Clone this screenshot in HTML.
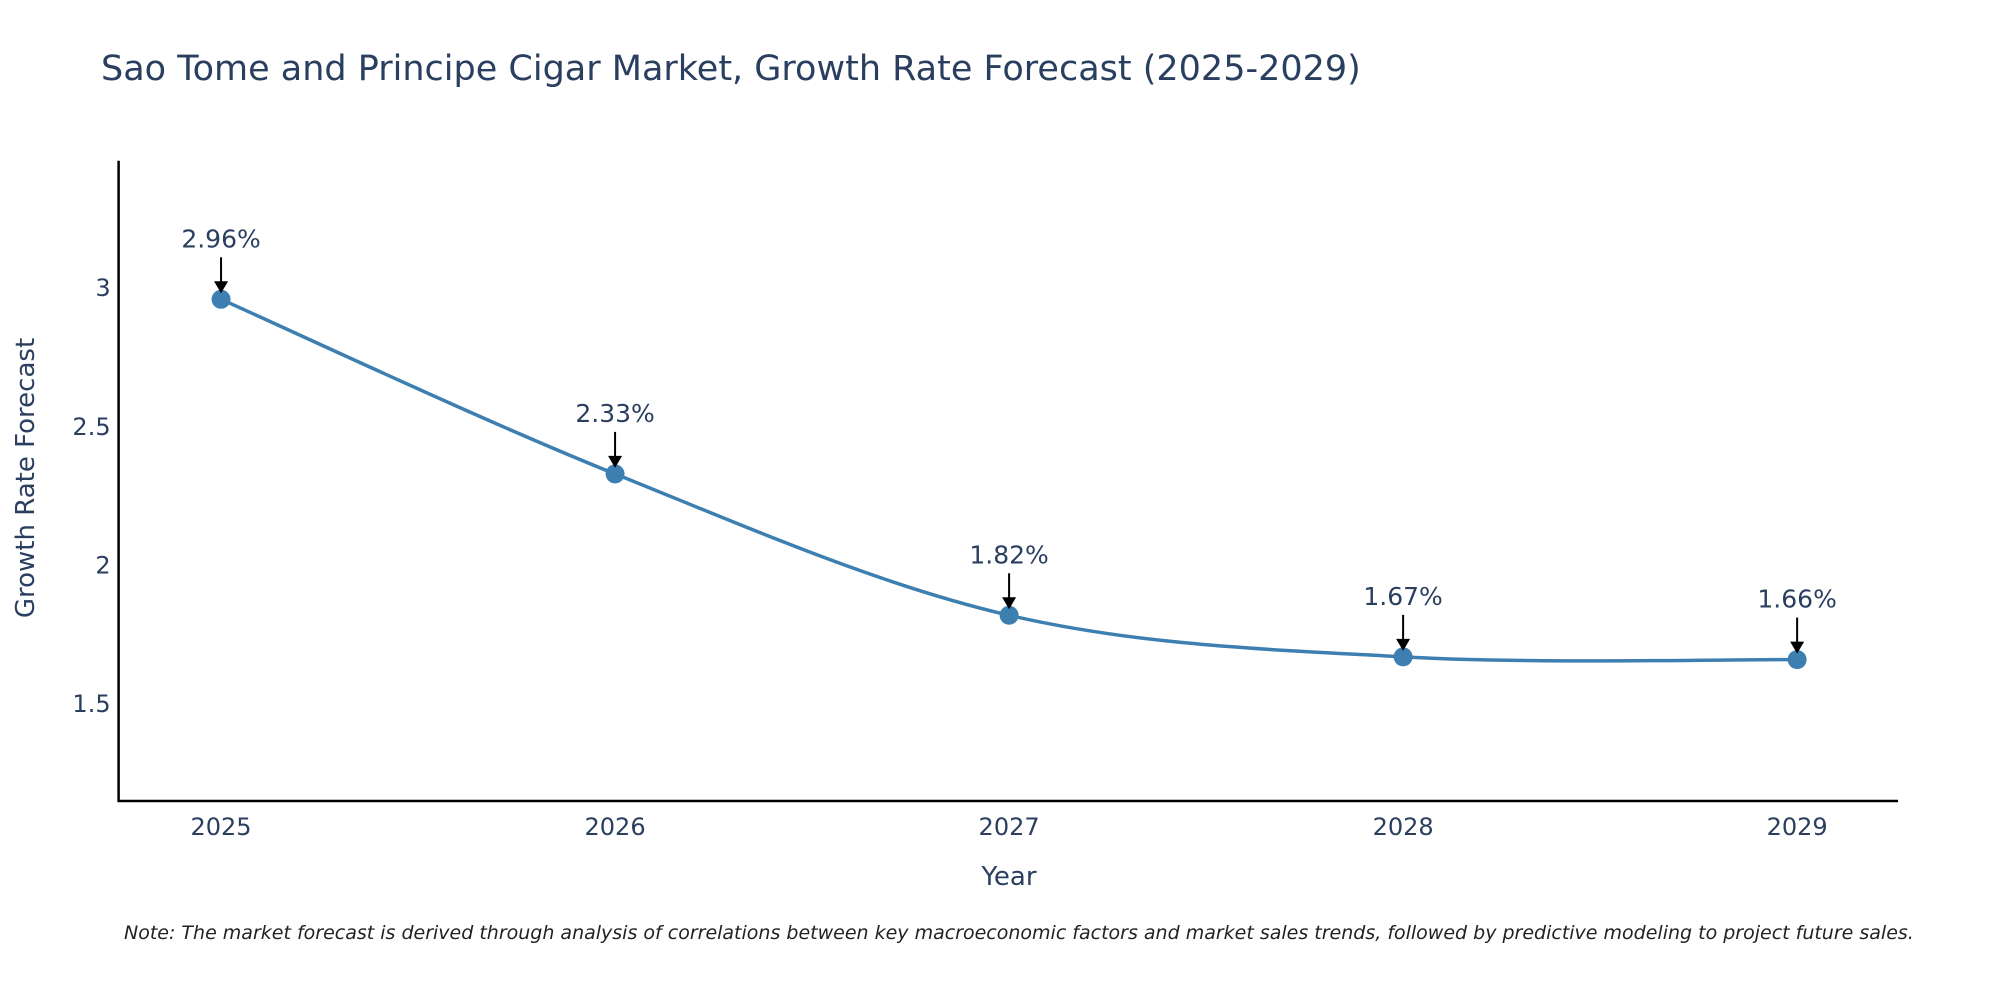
<!DOCTYPE html>
<html><head><meta charset="utf-8"><style>
html,body{margin:0;padding:0;background:#fff;}
svg{display:block;font-family:"DejaVu Sans","Liberation Sans",sans-serif;}
</style></head><body>
<svg id="chart" width="2000" height="1000">
<text x="101" y="80" font-size="35" fill="#2a3f5f">Sao Tome and Principe Cigar Market, Growth Rate Forecast (2025-2029)</text>
<g id="axes"></g>
<g id="series"></g>
<text x="1009" y="885" font-size="26" fill="#2a3f5f" text-anchor="middle">Year</text>
<text transform="translate(34,478) rotate(-90)" font-size="26" fill="#2a3f5f" text-anchor="middle">Growth Rate Forecast</text>
<text x="124" y="939" font-size="19" font-style="italic" fill="#222">Note: The market forecast is derived through analysis of correlations between key macroeconomic factors and market sales trends, followed by predictive modeling to project future sales.</text>
</svg>
<script>
const years = [2025, 2026, 2027, 2028, 2029];
const growth = [2.96, 2.33, 1.82, 1.67, 1.66];
const labels = ["2.96%", "2.33%", "1.82%", "1.67%", "1.66%"];
const yTicks = [1.5, 2, 2.5, 3];
const yTickLabels = ["1.5", "2", "2.5", "3"];

const NS = "http://www.w3.org/2000/svg";
const L = 118.6, R = 1898, T = 160.7, B = 801;
const xMin = 2024.74, xMax = 2029.256, yMin = 1.15, yMax = 3.46;
const xs = v => L + (v - xMin) / (xMax - xMin) * (R - L);
const ys = v => B - (v - yMin) / (yMax - yMin) * (B - T);
function mk(tag, attrs, parent) {
  const e = document.createElementNS(NS, tag);
  for (const k in attrs) e.setAttribute(k, attrs[k]);
  parent.appendChild(e);
  return e;
}
const axes = document.getElementById("axes");
const series = document.getElementById("series");
const yAxis = mk("line", {x1: L, y1: T, x2: L, y2: B + 1, stroke: "#000", "stroke-width": 2.5}, axes);


const xAxis = mk("line", {x1: L - 1, y1: B, x2: R, y2: B, stroke: "#000", "stroke-width": 2.5}, axes);


yTicks.forEach((v, i) => {
  const t = mk("text", {x: L - 8, y: ys(v) + 8, "font-size": 24, fill: "#2a3f5f", "text-anchor": "end"}, axes);
  t.textContent = yTickLabels[i];
  
  
});
years.forEach(v => {
  const t = mk("text", {x: xs(v), y: 835, "font-size": 24, fill: "#2a3f5f", "text-anchor": "middle"}, axes);
  t.textContent = String(v);
  
  
});
const pts = years.map((y, i) => [xs(y), ys(growth[i])]);
let d = "M" + pts[0][0] + "," + pts[0][1];
for (let i = 0; i < pts.length - 1; i++) {
  const p0 = pts[Math.max(0, i - 1)], p1 = pts[i], p2 = pts[i + 1], p3 = pts[Math.min(pts.length - 1, i + 2)];
  const s = 6;
  const c1 = [p1[0] + (p2[0] - p0[0]) / s, p1[1] + (p2[1] - p0[1]) / s];
  const c2 = [p2[0] - (p3[0] - p1[0]) / s, p2[1] - (p3[1] - p1[1]) / s];
  d += " C" + c1[0] + "," + c1[1] + " " + c2[0] + "," + c2[1] + " " + p2[0] + "," + p2[1];
}
const line = mk("path", {d: d, fill: "none", stroke: "#3d7fb0", "stroke-width": 3.5}, series);


pts.forEach((p, i) => {
  const c = mk("circle", {cx: p[0], cy: p[1], r: 9.5, fill: "#3d7fb0"}, series);
  
  
  const a = mk("line", {x1: p[0], y1: p[1] - 42, x2: p[0], y2: p[1] - 16, stroke: "#000", "stroke-width": 2}, series);
  
  
  const h = mk("polygon", {points: (p[0] - 7) + "," + (p[1] - 18) + " " + (p[0] + 7) + "," + (p[1] - 18) + " " + p[0] + "," + (p[1] - 6), fill: "#000"}, series);
  
  
  const t = mk("text", {x: p[0], y: p[1] - 52, "font-size": 25, fill: "#2a3f5f", "text-anchor": "middle"}, series);
  t.textContent = labels[i];
  
  
});
</script>
</body></html>
